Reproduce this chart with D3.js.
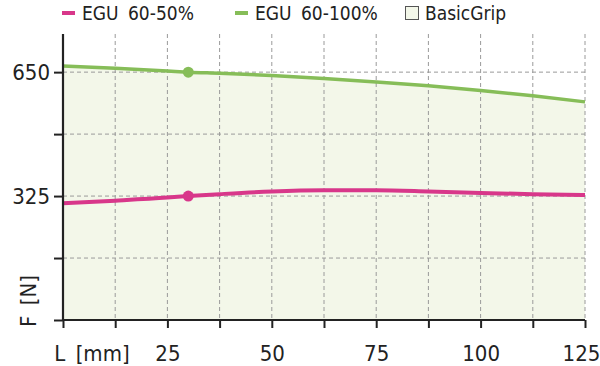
<!DOCTYPE html>
<html><head><meta charset="utf-8">
<script src="https://cdn.jsdelivr.net/npm/d3@7"></script>
<style>body{margin:0;background:#fff}svg{display:block}text{font-family:"DejaVu Sans Condensed","DejaVu Sans",sans-serif;fill:#222}</style>
</head><body>
<svg id="c" width="600" height="366"></svg>
<script>
const lengths = [0, 12.5, 25, 30, 37.5, 50, 62.5, 75, 87.5, 100, 112.5, 125];
const egu50 = [306, 313, 321, 325, 330, 337, 340, 340, 337, 333, 330, 328];
const egu100 = [666, 660, 653, 650, 647, 641, 633, 624, 614, 602, 588, 572];
const markerL = 30;
const xTicks = [0, 12.5, 25, 37.5, 50, 62.5, 75, 87.5, 100, 112.5, 125];
const xLabels = [25, 50, 75, 100, 125];
const yTicks = [0, 162.5, 325, 487.5, 650];
const yLabels = [325, 650];
const seriesNames = ["EGU 60-50%", "EGU 60-100%", "BasicGrip"];
const colors = {pink: "#d8378a", green: "#86bd58", fill: "#f3f7e9"};

const svg = d3.select("#c");
const x = d3.scaleLinear().domain([0, 125]).range([63, 585]);
const y = d3.scaleLinear().domain([0, 750]).range([320, 34]);

svg.append("path")
  .datum(lengths.map((l, i) => [l, egu100[i]]))
  .attr("fill", colors.fill)
  .attr("d", d3.area().x(d => x(d[0])).y0(y(0)).y1(d => y(d[1])).curve(d3.curveMonotoneX));

const g = svg.append("g").attr("stroke", "#9a9a9a").attr("stroke-width", 1).attr("stroke-dasharray", "4,3");
xTicks.filter(t => t > 0).forEach(t => g.append("line").attr("x1", x(t)).attr("x2", x(t)).attr("y1", y(750)).attr("y2", y(0)));
yTicks.filter(t => t > 0).forEach(t => g.append("line").attr("x1", x(0)).attr("x2", x(125)).attr("y1", y(t)).attr("y2", y(t)));

const line = d3.line().x((d, i) => x(lengths[i])).y(d => y(d)).curve(d3.curveMonotoneX);
svg.append("path").datum(egu100).attr("fill", "none").attr("stroke", colors.green).attr("stroke-width", 3.5).attr("d", line);
svg.append("path").datum(egu50).attr("fill", "none").attr("stroke", colors.pink).attr("stroke-width", 4).attr("d", line);
const mi = lengths.indexOf(markerL);
svg.append("circle").attr("cx", x(markerL)).attr("cy", y(egu100[mi])).attr("r", 5.5).attr("fill", colors.green);
svg.append("circle").attr("cx", x(markerL)).attr("cy", y(egu50[mi])).attr("r", 5.5).attr("fill", colors.pink);

const xAxis = svg.append("g").attr("transform", `translate(0,${y(0)})`)
  .call(d3.axisBottom(x).tickValues(xTicks).tickSize(8).tickFormat(d => xLabels.includes(d) ? d : ""));
const yAxis = svg.append("g").attr("transform", `translate(${x(0)},0)`)
  .call(d3.axisLeft(y).tickValues(yTicks).tickSize(9).tickFormat(d => yLabels.includes(d) ? d : ""));
[xAxis, yAxis].forEach(a => {
  a.select(".domain").attr("stroke", "#222").attr("stroke-width", 2.2);
  a.selectAll(".tick line").attr("stroke", "#222").attr("stroke-width", 2);
  a.selectAll(".tick text").style("font-size", "22px").attr("fill", "#222");
});
yAxis.select(".domain").attr("d", `M0,${y(0)}V${y(750)}`);
xAxis.select(".domain").attr("d", `M${x(0)},0H${x(125)}`);
xAxis.selectAll(".tick text").attr("dy", "0").attr("y", 41).attr("x", d => d === 125 ? -4 : 0);
yAxis.selectAll(".tick text").attr("x", -13).attr("dy", "0.35em");

svg.append("text").attr("x", 92).attr("y", 361).attr("text-anchor", "middle").style("font-size", "22px").style("word-spacing", "4px").text("L [mm]");
svg.append("text").attr("transform", "translate(36,301) rotate(-90)").attr("text-anchor", "middle").style("font-size", "22px").style("word-spacing", "4px").text("F [N]");

const leg = [
  {name: seriesNames[0], color: colors.pink, x: 62},
  {name: seriesNames[1], color: colors.green, x: 235}
];
leg.forEach(l => {
  svg.append("rect").attr("x", l.x).attr("y", 11).attr("width", 13).attr("height", 4).attr("fill", l.color);
  svg.append("text").attr("x", l.x + 20).attr("y", 20).style("font-size", "19px").style("word-spacing", "4px").text(l.name);
});
svg.append("rect").attr("x", 405.5).attr("y", 6.5).attr("width", 13).attr("height", 13).attr("fill", colors.fill).attr("stroke", "#555").attr("stroke-width", 1);
svg.append("text").attr("x", 425).attr("y", 20).style("font-size", "19px").text(seriesNames[2]);
</script>
</body></html>
